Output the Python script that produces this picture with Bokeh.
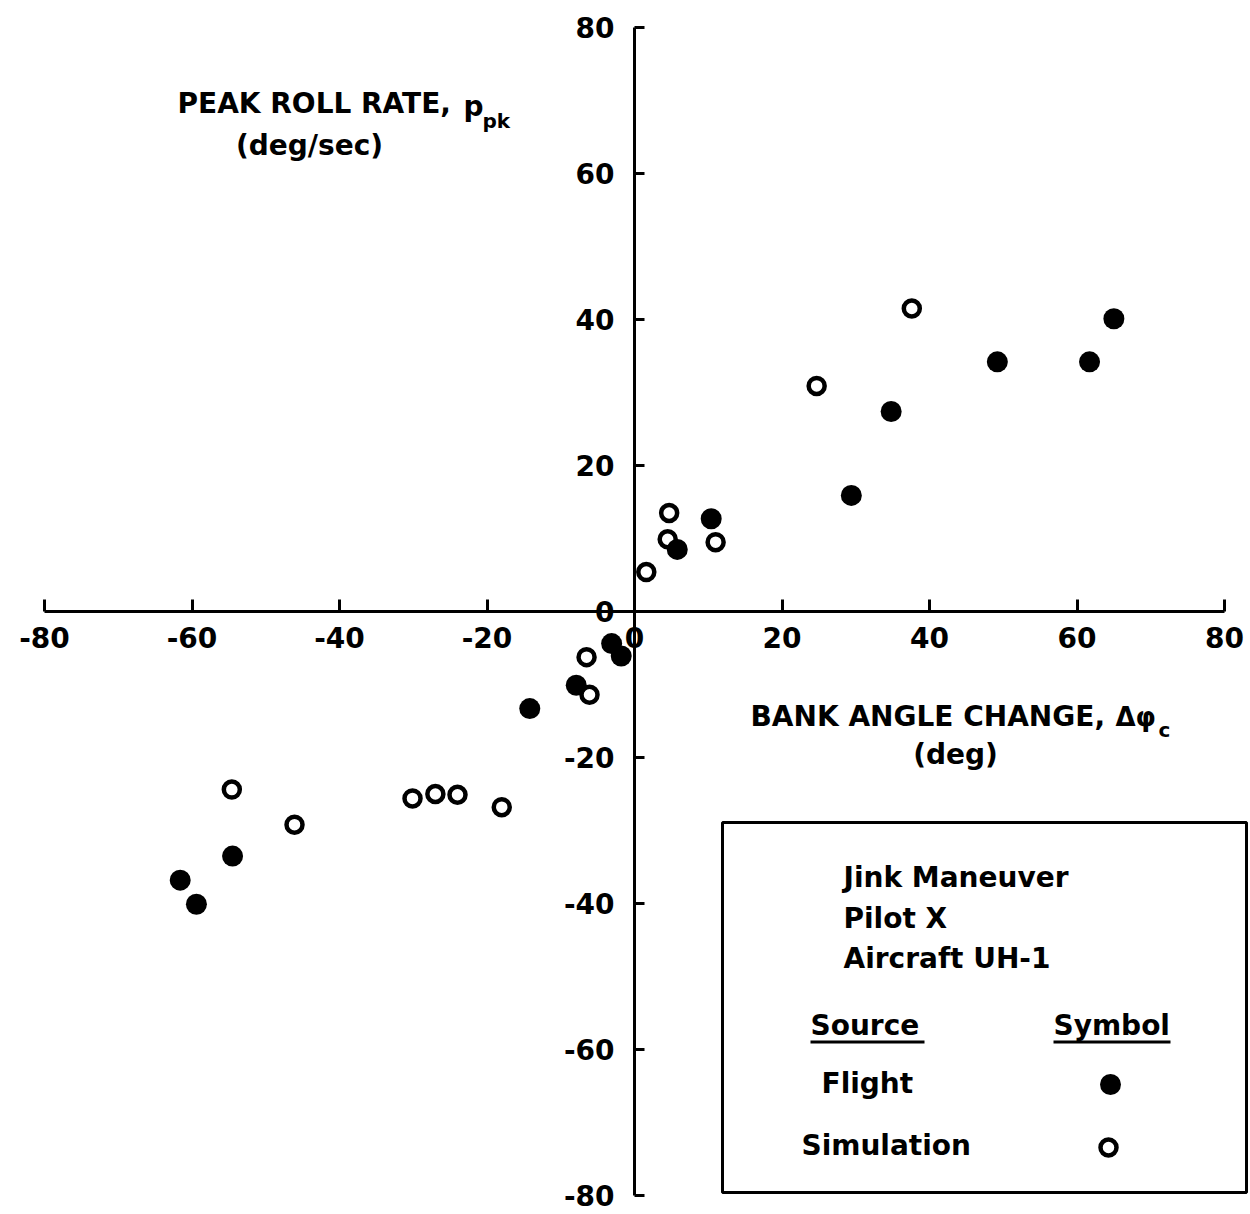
from bokeh.plotting import figure
from bokeh.models import Range1d, LinearAxis, FixedTicker, Label, BoxAnnotation
from bokeh.embed import file_html
from bokeh.resources import INLINE

# ---------------- data ----------------
x_ticks = [-80, -60, -40, -20, 0, 20, 40, 60, 80]
y_ticks = [-80, -60, -40, -20, 0, 20, 40, 60, 80]

# Flight (filled symbols)
flight_x = [65.0, 61.7, 49.2, 34.8, 29.4, 10.4, 5.8, -3.1, -1.8, -7.9, -14.2, -54.5, -61.6, -59.4]
flight_y = [40.1, 34.2, 34.2, 27.4, 15.9, 12.7, 8.5, -4.4, -6.1, -10.1, -13.3, -33.5, -36.8, -40.1]

# Simulation (open symbols)
sim_x = [37.6, 24.7, 4.7, 4.5, 11.0, 1.6, -6.5, -6.1, -54.6, -46.1, -30.1, -27.0, -24.0, -18.0]
sim_y = [41.5, 30.9, 13.5, 9.9, 9.5, 5.4, -6.25, -11.4, -24.4, -29.2, -25.6, -25.0, -25.1, -26.8]

legend_title_lines = ["Jink Maneuver", "Pilot X", "Aircraft UH-1"]
legend_headers = ["Source", "Symbol"]
legend_sources = ["Flight", "Simulation"]

# ---------------- layout ----------------
W, H = 1250, 1214
M = 0  # canvas offset in the picture
X_LO_PX, X_HI_PX = 44, 1224
Y_HI_PX, Y_LO_PX = 27, 1195
SX = (X_HI_PX - X_LO_PX) / 160.0
SY = (Y_LO_PX - Y_HI_PX) / 160.0
XMIN = -80 - (X_LO_PX - M) / SX
XMAX = XMIN + W / SX
YMAX = 80 + (Y_HI_PX - M) / SY
YMIN = YMAX - H / SY


def X(px):
    return XMIN + (px - M) / SX


def Y(py):
    return YMAX - (py - M) / SY


FONT = "DejaVu Sans"
FS = "28px"

p = figure(width=W, height=H, x_range=Range1d(XMIN, XMAX), y_range=Range1d(YMIN, YMAX),
           x_axis_location=None, y_axis_location=None, toolbar_location=None,
           output_backend="svg", min_border=0, outline_line_color=None,
           background_fill_color="white", border_fill_color="white")
p.xgrid.visible = False
p.ygrid.visible = False


def style_axis(ax, ticks):
    ax.axis_line_width = 3
    ax.axis_line_color = "black"
    ax.major_tick_line_width = 3
    ax.major_tick_line_color = "black"
    ax.minor_tick_line_color = None
    ax.major_tick_out = 0
    ax.major_label_text_font = FONT
    ax.major_label_text_font_style = "bold"
    ax.major_label_text_font_size = FS
    ax.major_label_text_color = "black"
    ax.major_label_overrides = {t: str(t) for t in ticks}


xax = LinearAxis(fixed_location=0, bounds=(-80, 80), ticker=FixedTicker(ticks=x_ticks))
style_axis(xax, x_ticks)
xax.major_tick_in = 12
xax.major_label_standoff = 15
p.add_layout(xax, "below")

yax = LinearAxis(fixed_location=0, bounds=(-80, 80), ticker=FixedTicker(ticks=y_ticks))
style_axis(yax, y_ticks)
yax.major_tick_in = 10
yax.major_label_standoff = 20
yax.major_label_orientation = "horizontal"
p.add_layout(yax, "left")

# data points
p.scatter(sim_x, sim_y, marker="circle", size=16, line_width=4.5,
          line_color="black", fill_color="white")
p.scatter(flight_x, flight_y, marker="circle", size=21, line_width=0,
          line_color="black", fill_color="black")


def lab(text, px, py, size=FS, align="left"):
    p.add_layout(Label(x=X(px), y=Y(py), text=text, text_font=FONT, text_font_style="bold",
                       text_font_size=size, text_align=align, text_baseline="middle",
                       text_color="black"))


# axis titles
lab("PEAK ROLL RATE,", 177, 103)
lab("p", 463, 106)
lab("pk", 482, 120, size="20px")
lab("(deg/sec)", 309, 145, align="center")
lab("BANK ANGLE CHANGE,", 750, 716)
lab("\u0394\u03c6", 1115, 716, size="26px")
lab("c", 1158, 729, size="20px")
lab("(deg)", 955, 754, align="center")

# legend box
p.add_layout(BoxAnnotation(left=X(722), right=X(1246), top=Y(822), bottom=Y(1192),
                           fill_alpha=0, line_color="black", line_alpha=1, line_width=3))
for txt, py in zip(legend_title_lines, [877, 918, 958]):
    lab(txt, 843, py)
for txt, px, pr in zip(legend_headers, [810, 1053], [924, 1170]):
    lab(txt, px, 1025)
    p.add_layout(BoxAnnotation(left=X(px), right=X(pr), top=Y(1040), bottom=Y(1043),
                               fill_color="black", fill_alpha=1, line_color=None))
lab(legend_sources[0], 821, 1083)
lab(legend_sources[1], 801, 1145)
p.scatter([X(1110)], [Y(1084)], marker="circle", size=21, line_width=0, fill_color="black")
p.scatter([X(1108)], [Y(1147)], marker="circle", size=16, line_width=4.5,
          line_color="black", fill_color="white")

open("out.html", "w").write(file_html(p, INLINE))
